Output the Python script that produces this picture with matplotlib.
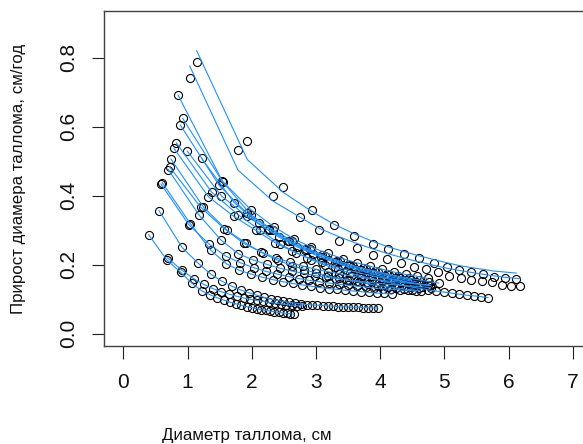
import matplotlib
matplotlib.use("Agg")
import matplotlib.pyplot as plt

plt.rcParams['font.family'] = ['Liberation Sans', 'DejaVu Sans']

# ---- data: thallus diameter (cm) vs annual diameter increment (cm/year) ----
a_x = [1.143, 1.931, 2.49, 2.934, 3.277, 3.593, 3.885, 4.128, 4.377, 4.606, 4.84, 5.04, 5.23, 5.42, 5.6, 5.77, 5.95, 6.12]
a_y = [0.788, 0.560, 0.424, 0.358, 0.315, 0.283, 0.260, 0.247, 0.231, 0.219, 0.206, 0.194, 0.186, 0.178, 0.172, 0.166, 0.163, 0.160]
a_fit = [0.82, 0.505, 0.41, 0.355, 0.318, 0.29, 0.268, 0.252, 0.238, 0.226, 0.215, 0.206, 0.198, 0.192, 0.187, 0.182, 0.179, 0.176]

b_x = [1.034, 1.787, 2.327, 2.752, 3.048, 3.364, 3.636, 3.885, 4.112, 4.32, 4.528, 4.715, 4.897, 5.073, 5.255, 5.42, 5.59, 5.738, 5.894, 6.044, 6.18]
b_y = [0.742, 0.532, 0.400, 0.338, 0.300, 0.269, 0.249, 0.228, 0.217, 0.204, 0.193, 0.187, 0.178, 0.169, 0.163, 0.156, 0.153, 0.149, 0.142, 0.139, 0.139]
b_fit = [0.776, 0.474, 0.385, 0.338, 0.306, 0.281, 0.262, 0.246, 0.233, 0.222, 0.212, 0.204, 0.196, 0.189, 0.183, 0.178, 0.173, 0.169, 0.165, 0.162, 0.16]

l1_x = [0.395, 0.682, 0.895, 1.073, 1.219, 1.344, 1.458, 1.563, 1.661, 1.753, 1.84, 1.923, 2.002, 2.078, 2.151, 2.221, 2.289, 2.355, 2.419, 2.481, 2.542, 2.601, 2.659]
l1_y = [0.287, 0.213, 0.178, 0.146, 0.125, 0.114, 0.105, 0.098, 0.092, 0.087, 0.083, 0.079, 0.076, 0.073, 0.070, 0.068, 0.066, 0.064, 0.062, 0.061, 0.059, 0.058, 0.057]

l2_x = [0.69, 0.91, 1.095, 1.255, 1.398, 1.529, 1.651, 1.766, 1.875, 1.979, 2.079, 2.176, 2.27, 2.361, 2.45, 2.537, 2.622, 2.705, 2.787]
l2_y = [0.220, 0.185, 0.160, 0.143, 0.131, 0.122, 0.115, 0.109, 0.104, 0.100, 0.097, 0.094, 0.091, 0.089, 0.087, 0.085, 0.083, 0.082, 0.081]

l3_x = [0.556, 0.913, 1.164, 1.369, 1.541, 1.693, 1.831, 1.958, 2.077, 2.189, 2.295, 2.396, 2.493, 2.587, 2.678, 2.767, 2.854, 2.939, 3.023, 3.106, 3.188, 3.269, 3.349, 3.428, 3.506, 3.584, 3.661, 3.738, 3.814, 3.89, 3.965]
l3_y = [0.357, 0.251, 0.205, 0.172, 0.152, 0.138, 0.127, 0.119, 0.112, 0.106, 0.101, 0.097, 0.094, 0.091, 0.089, 0.087, 0.085, 0.084, 0.083, 0.082, 0.081, 0.080, 0.079, 0.078, 0.078, 0.077, 0.077, 0.076, 0.076, 0.075, 0.075]

m1_x = [0.607, 1.045, 1.364, 1.606, 1.809, 1.993, 2.166, 2.33, 2.487, 2.638, 2.784, 2.926, 3.064, 3.198, 3.329, 3.458, 3.584, 3.708, 3.83, 3.95, 4.068, 4.185]
m1_y = [0.438, 0.319, 0.242, 0.203, 0.184, 0.173, 0.164, 0.157, 0.151, 0.146, 0.142, 0.138, 0.134, 0.131, 0.129, 0.126, 0.124, 0.122, 0.120, 0.118, 0.117, 0.115]

m2_x = [0.587, 1.021, 1.337, 1.597, 1.822, 2.028, 2.22, 2.401, 2.574, 2.74, 2.9, 3.055, 3.206, 3.353, 3.497, 3.638, 3.776, 3.912, 4.045, 4.176, 4.305, 4.432, 4.558]
m2_y = [0.434, 0.316, 0.260, 0.225, 0.206, 0.192, 0.181, 0.173, 0.166, 0.160, 0.155, 0.151, 0.147, 0.144, 0.141, 0.138, 0.136, 0.133, 0.131, 0.129, 0.127, 0.126, 0.124]

m3_x = [0.70, 1.176, 1.521, 1.793, 2.025, 2.239, 2.44, 2.63, 2.812, 2.987, 3.156, 3.32, 3.48, 3.636, 3.789, 3.939, 4.086, 4.23, 4.372, 4.512, 4.65, 4.786]
m3_y = [0.476, 0.345, 0.272, 0.232, 0.214, 0.201, 0.190, 0.182, 0.175, 0.169, 0.164, 0.160, 0.156, 0.153, 0.150, 0.147, 0.144, 0.142, 0.140, 0.138, 0.136, 0.134]

m4_x = [0.72, 1.204, 1.571, 1.876, 2.138, 2.376, 2.596, 2.803, 2.999, 3.186, 3.366, 3.54, 3.708, 3.871, 4.03, 4.185, 4.337, 4.486, 4.632, 4.775]
m4_y = [0.484, 0.367, 0.305, 0.262, 0.238, 0.220, 0.207, 0.196, 0.187, 0.180, 0.174, 0.168, 0.163, 0.159, 0.155, 0.152, 0.149, 0.146, 0.143, 0.141]

m5_x = [0.743, 1.249, 1.616, 1.916, 2.178, 2.411, 2.624, 2.822, 3.008, 3.184, 3.352, 3.513, 3.668, 3.818, 3.963, 4.103, 4.24, 4.373, 4.503, 4.63]
m5_y = [0.506, 0.367, 0.300, 0.262, 0.233, 0.213, 0.198, 0.186, 0.176, 0.168, 0.161, 0.155, 0.150, 0.145, 0.140, 0.137, 0.133, 0.130, 0.127, 0.124]

m6_x = [0.79, 1.327, 1.724, 2.064, 2.364, 2.628, 2.868, 3.089, 3.296, 3.491, 3.676, 3.853, 4.022, 4.185, 4.342, 4.494, 4.641, 4.784]
m6_y = [0.537, 0.397, 0.340, 0.300, 0.264, 0.240, 0.221, 0.207, 0.195, 0.185, 0.177, 0.169, 0.163, 0.157, 0.152, 0.147, 0.143, 0.140]

m7_x = [0.826, 1.379, 1.789, 2.134, 2.434, 2.695, 2.93, 3.145, 3.344, 3.531, 3.707, 3.874, 4.034, 4.187, 4.334, 4.475, 4.611, 4.743, 4.871, 4.995, 5.116, 5.234, 5.349, 5.461, 5.571, 5.679]
m7_y = [0.553, 0.410, 0.345, 0.300, 0.261, 0.235, 0.215, 0.199, 0.187, 0.176, 0.167, 0.160, 0.153, 0.147, 0.141, 0.136, 0.132, 0.128, 0.124, 0.121, 0.118, 0.115, 0.112, 0.110, 0.108, 0.105]

m8_x = [0.888, 1.493, 1.923, 2.273, 2.578, 2.848, 3.094, 3.321, 3.533, 3.733, 3.923, 4.105, 4.279, 4.446, 4.607, 4.763, 4.914]
m8_y = [0.605, 0.430, 0.350, 0.305, 0.270, 0.246, 0.227, 0.212, 0.200, 0.190, 0.182, 0.174, 0.167, 0.161, 0.156, 0.151, 0.147]

m9_x = [0.925, 1.549, 1.989, 2.334, 2.634, 2.904, 3.149, 3.374, 3.584, 3.781, 3.968, 4.146, 4.316, 4.479]
m9_y = [0.624, 0.440, 0.345, 0.300, 0.270, 0.245, 0.225, 0.210, 0.197, 0.187, 0.178, 0.170, 0.163, 0.157]

m10_x = [0.852, 1.544, 1.986, 2.346, 2.656, 2.931, 3.182, 3.415, 3.633, 3.839, 4.035, 4.222, 4.401, 4.573, 4.74]
m10_y = [0.692, 0.442, 0.360, 0.310, 0.275, 0.251, 0.233, 0.218, 0.206, 0.196, 0.187, 0.179, 0.172, 0.167, 0.161]

m11_x = [0.997, 1.526, 1.926, 2.266, 2.566, 2.836, 3.08, 3.304, 3.513, 3.71, 3.896, 4.073, 4.242, 4.404, 4.56]
m11_y = [0.529, 0.400, 0.340, 0.300, 0.270, 0.244, 0.224, 0.209, 0.197, 0.186, 0.177, 0.169, 0.162, 0.156, 0.151]

m12_x = [1.22, 1.728, 2.108, 2.428, 2.708, 2.96, 3.191, 3.405, 3.605, 3.793, 3.971, 4.14, 4.301, 4.456, 4.605, 4.75]
m12_y = [0.508, 0.380, 0.320, 0.280, 0.252, 0.231, 0.214, 0.200, 0.188, 0.178, 0.169, 0.161, 0.155, 0.149, 0.145, 0.141]

x_ticks = [0, 1, 2, 3, 4, 5, 6, 7]
y_ticks = [0.0, 0.2, 0.4, 0.6, 0.8]
y_tick_labels = ["0.0", "0.2", "0.4", "0.6", "0.8"]
x_title = "Диаметр таллома, см"
y_title = "Прирост диамера таллома, см/год"

# (points x, points y, fitted line y)
series = [
    (a_x, a_y, a_fit), (b_x, b_y, b_fit),
    (l1_x, l1_y, l1_y), (l2_x, l2_y, l2_y), (l3_x, l3_y, l3_y),
    (m1_x, m1_y, m1_y), (m2_x, m2_y, m2_y), (m3_x, m3_y, m3_y),
    (m4_x, m4_y, m4_y), (m5_x, m5_y, m5_y), (m6_x, m6_y, m6_y),
    (m7_x, m7_y, m7_y), (m8_x, m8_y, m8_y), (m9_x, m9_y, m9_y),
    (m10_x, m10_y, m10_y), (m11_x, m11_y, m11_y), (m12_x, m12_y, m12_y),
]

W, H, DPI = 583, 444, 100
fig = plt.figure(figsize=(W / DPI, H / DPI), dpi=DPI)
fig.patch.set_facecolor("white")

# axes box in pixels: left 104.3, right 617.4 (beyond the image), top 10.7, bottom 346.3
ax = fig.add_axes([104.3 / W, (H - 346.3) / H, (617.4 - 104.3) / W, (346.3 - 10.7) / H])
ax.set_xlim(-0.296, 7.696)
ax.set_ylim(-0.036, 0.936)

for sx, sy, fy in series:
    ax.plot(sx, sy, linestyle="none", marker="o", markersize=5.8,
            markerfacecolor="none", markeredgecolor="black", markeredgewidth=0.8, zorder=2)
for sx, sy, fy in series:
    ax.plot(sx, fy, color="#1E90FF", linewidth=0.8, zorder=3)

for sp in ax.spines.values():
    sp.set_color("#404040")
    sp.set_linewidth(1.0)

ax.set_xticks(x_ticks)
ax.set_xticklabels([str(v) for v in x_ticks])
ax.set_yticks(y_ticks)
ax.set_yticklabels(y_tick_labels, rotation=90, va="center")
ax.tick_params(axis="both", direction="out", length=9, width=0.8, color="#202020",
               labelsize=15, labelcolor="#111111")
ax.tick_params(axis="x", pad=10)
ax.tick_params(axis="y", pad=10)

fig.text(246.7 / W, 1 - 435.5 / H, x_title, ha="center", va="center", fontsize=12.2, color="#111111")
fig.text(18.5 / W, 1 - 178.5 / H, y_title, ha="center", va="center", rotation=90,
         fontsize=12.2, color="#111111")

fig.savefig("out.png", dpi=DPI)
